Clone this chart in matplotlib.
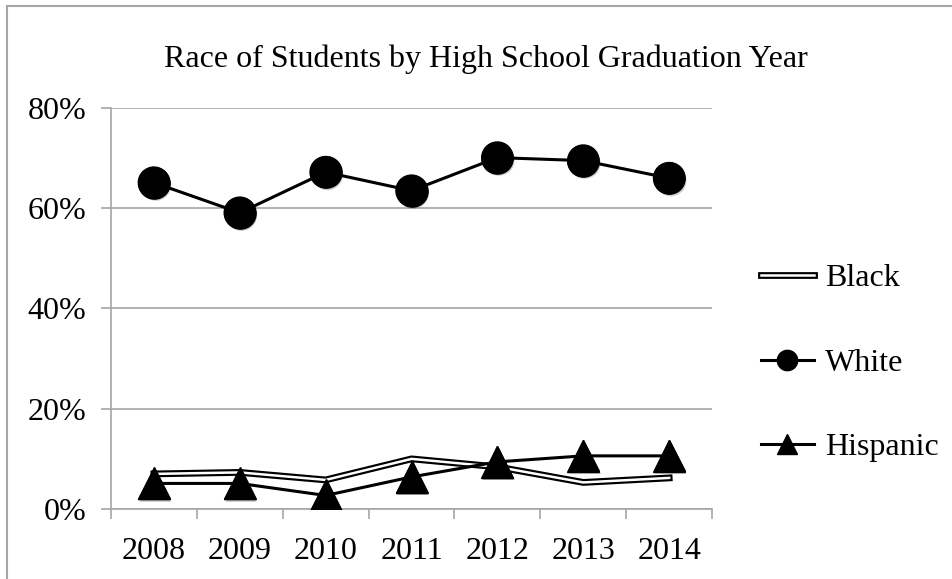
import matplotlib.pyplot as plt
import matplotlib.patheffects as pe
import numpy as np
from matplotlib.ticker import PercentFormatter

plt.rcParams['font.family'] = ['Liberation Serif', 'DejaVu Serif']

# Data (percent of students)
years = ['2008', '2009', '2010', '2011', '2012', '2013', '2014']
black = [7.0, 7.3, 5.8, 10.0, 8.4, 5.3, 6.2]
white = [65.1, 59.1, 67.2, 63.5, 70.1, 69.5, 66.0]
hispanic = [5.1, 5.1, 2.7, 6.4, 9.4, 10.6, 10.6]

grid_grey = '#a6a6a6'

fig = plt.figure(figsize=(9.52, 5.79), dpi=100)
ax = fig.add_axes([0.1166, 0.1209, 0.6314, 0.6926])

x = np.arange(len(years))
shadow = [pe.SimplePatchShadow(offset=(1.2, -1.8), shadow_rgbFace='#777777', alpha=0.35),
          pe.Normal()]

# Black: double line (thick black stroke with a white core)
ax.plot(x, black, color='white', linewidth=1.8, label='Black', zorder=3,
        path_effects=[pe.Stroke(linewidth=4.9, foreground='black'), pe.Normal()])

# soft drop shadows under the markers
ax.plot(x, white, linestyle='none', marker='o', markersize=22.5, color='black',
        path_effects=shadow, zorder=4)
ax.plot(x, hispanic, linestyle='none', marker='^', markersize=22.5, color='black',
        path_effects=shadow, zorder=4)

ax.plot(x, white, color='black', linewidth=2.2, marker='o', markersize=22.5,
        markerfacecolor='black', label='White', zorder=5)
ax.plot(x, hispanic, color='black', linewidth=2.2, marker='^', markersize=22.5,
        markerfacecolor='black', label='Hispanic', zorder=5)

ax.set_xlim(-0.5, len(years) - 0.5)
ax.set_ylim(0, 80)
ax.set_yticks([0, 20, 40, 60, 80])
ax.yaxis.set_major_formatter(PercentFormatter(decimals=0))
ax.set_xticks(x)
ax.set_xticklabels(years)
ax.set_xticks(np.arange(-0.5, len(years)), minor=True)

ax.grid(axis='y', color=grid_grey, linewidth=1.2, zorder=0)
ax.set_axisbelow(True)
for side in ['top', 'right']:
    ax.spines[side].set_visible(False)
for side in ['left', 'bottom']:
    ax.spines[side].set_color(grid_grey)
    ax.spines[side].set_linewidth(1.2)

ax.tick_params(axis='y', direction='out', length=7, width=1.2, color=grid_grey,
               labelsize=23, pad=11)
ax.tick_params(axis='x', which='major', length=0, labelsize=23, pad=20)
ax.tick_params(axis='x', which='minor', direction='out', length=7, width=1.2,
               color=grid_grey)

fig.text(0.5105, 0.898, 'Race of Students by High School Graduation Year',
         ha='center', va='center', fontsize=23)

leg = fig.legend(loc='center left', bbox_to_anchor=(0.769, 0.373), frameon=False,
                 fontsize=23, handlelength=1.65, handletextpad=0.35, labelspacing=1.72,
                 markerscale=0.65)

# Partial frame around the chart
fig.add_artist(plt.Line2D([0.0074, 0.0074], [0, 0.9896], transform=fig.transFigure,
                          color=grid_grey, linewidth=1.5))
fig.add_artist(plt.Line2D([0.0074, 1], [0.9896, 0.9896], transform=fig.transFigure,
                          color=grid_grey, linewidth=1.5))

plt.savefig('out.png', dpi=100)
